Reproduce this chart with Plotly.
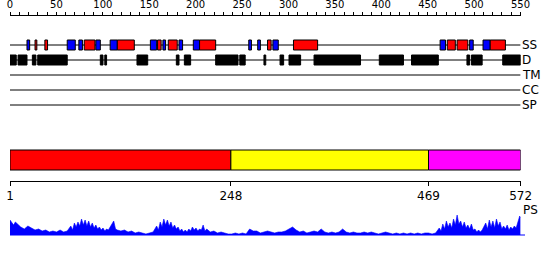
import plotly.graph_objects as go

# ---------------- data ----------------
SEQ_LEN = 572
ruler_max = 550
ruler_step = 50
ruler_minor_step = 10

domain_bounds = [1, 248, 469, 572]
domain_colors = ["#ff0000", "#ffff00", "#ff00ff"]

# secondary structure (residue start, end)
helix_start = [29, 40, 84, 121, 166, 178, 213, 289, 318, 490, 501, 538]
helix_end = [31, 43, 96, 140, 170, 188, 231, 293, 345, 499, 513, 555]
strand_start = [20, 65, 78, 97, 113, 158, 172, 190, 206, 268, 278, 295, 482, 515, 530]
strand_end = [23, 74, 82, 102, 121, 165, 175, 194, 213, 271, 281, 301, 488, 519, 538]

# disorder segments
dis_start = [1, 10, 26, 32, 102, 107, 143, 187, 196, 231, 258, 285, 303, 313, 341, 414, 450, 512, 517, 552]
dis_end = [8, 20, 30, 65, 105, 109, 155, 190, 203, 256, 264, 287, 307, 326, 393, 441, 480, 515, 529, 572]

track_labels = ["SS", "D", "TM", "CC", "SP"]

# PS profile (residue, value)
ps_pos = [1, 3, 5, 7, 9, 11, 13, 17, 21, 25, 29, 33, 37, 41, 45, 49, 53, 57, 61,
          65, 67, 69, 71, 73, 75, 77, 79, 81, 83, 85, 87, 89, 91, 93, 95, 97, 99, 101, 103,
          105, 107, 109, 111, 113, 115, 117, 119, 121,
          125, 129, 133, 137, 141, 145, 149, 153, 157,
          161, 163, 165, 167, 169, 171, 173, 175, 177, 179, 181, 183, 185, 187, 189, 191,
          193, 195, 197, 199, 201, 203, 205, 207, 209, 211, 213, 215, 217, 219, 221,
          225, 229, 233, 237, 241, 245, 249, 253, 257, 261, 265, 269, 273, 277, 281, 285,
          289, 293, 297, 301, 305, 309, 313, 317, 321, 325, 329, 333, 337, 341, 345, 349,
          353, 357, 361, 365, 369, 373, 377, 381, 385, 389, 393, 397, 401, 405, 409, 413,
          417, 421, 425, 429, 433, 437, 441, 445, 449, 453, 457, 461, 465, 469, 473, 477,
          481, 483, 485, 487, 489, 491, 493, 495, 497, 499, 501, 503, 505, 507, 509, 511,
          513, 515, 517, 519, 521, 523, 525, 527, 529, 531, 533, 535, 537, 539, 541, 543,
          545, 547, 549, 551, 553, 555, 557, 559, 561, 563, 565, 567, 569, 571, 572]
ps_val = [15, 12, 10, 13, 11, 9, 8, 6, 9, 7, 5, 6, 4, 5, 3, 4, 3, 5, 3,
          4, 6, 9, 5, 12, 8, 13, 9, 16, 10, 15, 9, 14, 8, 12, 7, 10, 6, 8, 5,
          7, 4, 6, 5, 8, 11, 14, 6, 5,
          4, 5, 3, 4, 2, 3, 2, 1, 2,
          3, 6, 9, 5, 13, 8, 16, 10, 15, 9, 13, 7, 10, 6, 8, 4,
          6, 3, 5, 3, 6, 4, 8, 5, 7, 4, 6, 5, 10, 4, 6,
          3, 4, 2, 3, 2, 1, 1, 2, 1, 2, 1, 6, 4, 4, 2, 3,
          4, 3, 2, 3, 3, 4, 6, 8, 5, 3, 4, 2, 3, 4, 3, 6,
          3, 2, 3, 2, 3, 6, 3, 2, 3, 2, 2, 3, 2, 3, 2, 1,
          2, 3, 2, 1, 2, 1, 2, 1, 2, 1, 2, 1, 2, 2, 1, 2,
          7, 4, 11, 6, 14, 8, 12, 7, 16, 10, 20, 11, 14, 8, 13, 7,
          10, 6, 11, 5, 6, 3, 5, 3, 5, 8, 12, 6, 15, 8, 14, 7,
          16, 9, 13, 6, 9, 6, 10, 5, 8, 6, 9, 7, 12, 19, 17]

# ---------------- layout constants (pixels) ----------------
W, H = 550, 260
X0, X1 = 10, 520.6
Y_RULER = 15
Y_TRACK = [45, 60, 75, 90, 105]
BOX_HALF = 5
BAR_Y0, BAR_Y1 = 150, 170
Y_AXIS2 = 181
PS_BASE, PS_TOP = 235, 215
FONT = "DejaVu Sans"

fig = go.Figure()

# invisible anchors so both x axes are drawn
fig.add_trace(go.Scatter(x=[0, ruler_max], y=[0, 0], xaxis="x", yaxis="y", mode="markers",
                         marker=dict(opacity=0), hoverinfo="skip", showlegend=False))

# PS profile
fig.add_trace(go.Scatter(x=ps_pos, y=ps_val, xaxis="x2", yaxis="y2", mode="lines",
                         line=dict(color="#0000ff", width=0.6), fill="tozeroy",
                         fillcolor="#0000ff", hoverinfo="skip", showlegend=False))

shapes = []
# track baselines
for yy in Y_TRACK:
    shapes.append(dict(type="line", xref="x2", yref="y", x0=1, x1=SEQ_LEN, y0=yy, y1=yy,
                       line=dict(color="black", width=1)))
# helices / strands
for s, e in zip(strand_start, strand_end):
    shapes.append(dict(type="rect", xref="x2", yref="y", x0=s, x1=e,
                       y0=Y_TRACK[0] - BOX_HALF, y1=Y_TRACK[0] + BOX_HALF,
                       fillcolor="#0000ff", line=dict(color="black", width=1)))
for s, e in zip(helix_start, helix_end):
    shapes.append(dict(type="rect", xref="x2", yref="y", x0=s, x1=e,
                       y0=Y_TRACK[0] - BOX_HALF, y1=Y_TRACK[0] + BOX_HALF,
                       fillcolor="#ff0000", line=dict(color="black", width=1)))
# disorder
for s, e in zip(dis_start, dis_end):
    shapes.append(dict(type="rect", xref="x2", yref="y", x0=s, x1=e,
                       y0=Y_TRACK[1] - BOX_HALF, y1=Y_TRACK[1] + BOX_HALF,
                       fillcolor="black", line=dict(color="black", width=1)))
# domain bar
for i, c in enumerate(domain_colors):
    shapes.append(dict(type="rect", xref="x2", yref="y", x0=domain_bounds[i], x1=domain_bounds[i + 1],
                       y0=BAR_Y0, y1=BAR_Y1, fillcolor=c, line=dict(color="black", width=1)))
# PS baseline
shapes.append(dict(type="line", xref="paper", yref="y", x0=X0 / W, x1=525 / W, y0=PS_BASE, y1=PS_BASE,
                   line=dict(color="#0000ff", width=1)))

annotations = []
for lab, yy in zip(track_labels, Y_TRACK):
    annotations.append(dict(text=lab, xref="paper", yref="y", x=519.5 / W, y=yy, xanchor="left",
                            yanchor="middle", showarrow=False, font=dict(family=FONT, size=12, color="black")))
annotations.append(dict(text="PS", xref="paper", yref="y", x=520.5 / W, y=210, xanchor="left",
                        yanchor="middle", showarrow=False, font=dict(family=FONT, size=12, color="black")))

fig.update_layout(
    width=W, height=H, margin=dict(l=0, r=0, t=0, b=0, pad=0, autoexpand=False),
    paper_bgcolor="white", plot_bgcolor="white", showlegend=False,
    shapes=shapes, annotations=annotations,
    xaxis=dict(domain=[X0 / W, 520.5 / W], range=[0, ruler_max], anchor="free", position=1 - Y_RULER / H,
               side="top", showline=True, linecolor="black", linewidth=1, ticks="outside", ticklen=3,
               tickcolor="black", tickmode="linear", tick0=0, dtick=ruler_step, automargin=False,
               minor=dict(dtick=ruler_minor_step, ticks="outside", ticklen=3, tickcolor="black", showgrid=False),
               tickfont=dict(family=FONT, size=10, color="black"), showgrid=False, zeroline=False,
               fixedrange=True),
    xaxis2=dict(domain=[X0 / W, X1 / W], range=[1, SEQ_LEN], anchor="free", position=1 - Y_AXIS2 / H,
                side="bottom", showline=True, linecolor="black", linewidth=1, ticks="outside", ticklen=4,
                tickcolor="black", tickmode="array", tickvals=domain_bounds, automargin=False,
                tickfont=dict(family=FONT, size=12, color="black"), showgrid=False, zeroline=False,
                fixedrange=True),
    yaxis=dict(domain=[0, 1], range=[H, 0], visible=False, fixedrange=True, automargin=False),
    yaxis2=dict(domain=[(H - PS_BASE) / H, (H - PS_TOP) / H], range=[0, 20], anchor="x2", visible=False,
                fixedrange=True, automargin=False),
)

fig.write_html("out.html")
